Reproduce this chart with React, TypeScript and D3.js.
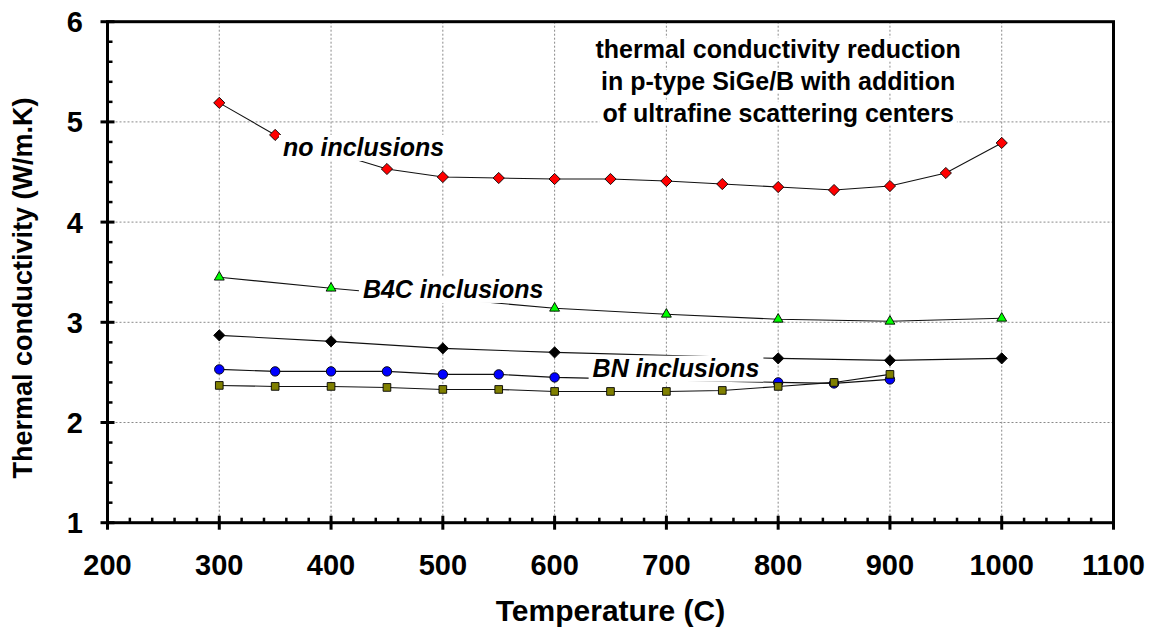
import React, { useEffect, useRef } from "react";
import * as d3 from "d3";

const noInclT = [300, 350, 450, 500, 550, 600, 650, 700, 750, 800, 850, 900, 950, 1000];
const noInclK = [5.19, 4.87, 4.53, 4.45, 4.44, 4.43, 4.43, 4.41, 4.38, 4.35, 4.32, 4.36, 4.49, 4.79];
const b4cT = [300, 400, 600, 700, 800, 900, 1000];
const b4cK = [3.45, 3.34, 3.14, 3.08, 3.03, 3.01, 3.04];
const blackT = [300, 400, 500, 600, 800, 900, 1000];
const blackK = [2.87, 2.81, 2.74, 2.70, 2.64, 2.62, 2.64];
const blueT = [300, 350, 400, 450, 500, 550, 600, 800, 850, 900];
const blueK = [2.53, 2.51, 2.51, 2.51, 2.48, 2.48, 2.45, 2.40, 2.39, 2.43];
const bnT = [300, 350, 400, 450, 500, 550, 600, 650, 700, 750, 800, 850, 900];
const bnK = [2.37, 2.36, 2.36, 2.35, 2.33, 2.33, 2.31, 2.31, 2.31, 2.32, 2.36, 2.40, 2.48];

const xTicks = [200, 300, 400, 500, 600, 700, 800, 900, 1000, 1100];
const yTicks = [1, 2, 3, 4, 5, 6];
const titleLines = [
  "thermal conductivity reduction",
  "in p-type SiGe/B with addition",
  "of ultrafine scattering centers",
];
const labelTexts = ["no inclusions", "B4C inclusions", "BN inclusions"];
const labelAnchors = [
  [357, 4.66],
  [428.5, 3.243],
  [634, 2.457],
];

const FONT = "'Liberation Sans', Arial, Helvetica, sans-serif";

export default function App() {
  const ref = useRef<SVGSVGElement | null>(null);

  useEffect(() => {
    const svg = d3.select(ref.current);
    svg.selectAll("*").remove();
    const x = d3.scaleLinear().domain([200, 1100]).range([107.5, 1113.5]);
    const y = d3.scaleLinear().domain([1, 6]).range([522.7, 21.7]);

    const g = svg.append("g");

    // gridlines
    g.append("g")
      .selectAll("line")
      .data(xTicks.slice(1, -1))
      .join("line")
      .attr("x1", (d) => x(d)).attr("x2", (d) => x(d))
      .attr("y1", y(6)).attr("y2", y(1))
      .attr("stroke", "#8a8a8a").attr("stroke-width", 1).attr("stroke-dasharray", "2,2");
    g.append("g")
      .selectAll("line")
      .data(yTicks.slice(1, -1))
      .join("line")
      .attr("y1", (d) => y(d)).attr("y2", (d) => y(d))
      .attr("x1", x(200)).attr("x2", x(1100))
      .attr("stroke", "#8a8a8a").attr("stroke-width", 1).attr("stroke-dasharray", "2,2");

    // series
    const series = [
      { t: noInclT, k: noInclK, shape: "diamond", fill: "#ff0000" },
      { t: b4cT, k: b4cK, shape: "triangle", fill: "#00ff00" },
      { t: blackT, k: blackK, shape: "diamond", fill: "#000000" },
      { t: blueT, k: blueK, shape: "circle", fill: "#0000ff" },
      { t: bnT, k: bnK, shape: "square", fill: "#808000" },
    ];
    series.forEach((s) => {
      const pts: [number, number][] = s.t.map((t, i) => [x(t), y(s.k[i])]);
      g.append("path")
        .attr("d", d3.line()(pts) as string)
        .attr("fill", "none")
        .attr("stroke", "#111")
        .attr("stroke-width", 1.1);
    });
    series.forEach((s) => {
      const pts: [number, number][] = s.t.map((t, i) => [x(t), y(s.k[i])]);
      const sym =
        s.shape === "diamond"
          ? d3.symbol().type(d3.symbolDiamond2).size(80)
          : s.shape === "triangle"
          ? d3.symbol().type(d3.symbolTriangle2).size(70)
          : s.shape === "circle"
          ? d3.symbol().type(d3.symbolCircle).size(70)
          : d3.symbol().type(d3.symbolSquare2).size(75);
      g.append("g")
        .selectAll("path")
        .data(pts)
        .join("path")
        .attr("transform", (d) => `translate(${d[0]},${d[1]})`)
        .attr("d", sym() as string)
        .attr("fill", s.fill)
        .attr("stroke", "#000")
        .attr("stroke-width", 0.9);
    });

    // labels with white boxes
    labelTexts.forEach((txt, i) => {
      const lg = g.append("g");
      const rect = lg.append("rect").attr("fill", "#fff");
      const t = lg.append("text")
        .attr("x", x(labelAnchors[i][0]))
        .attr("y", y(labelAnchors[i][1]))
        .attr("font-family", FONT)
        .attr("font-size", 25)
        .attr("font-weight", "bold")
        .attr("font-style", "italic")
        .attr("fill", "#000")
        .text(txt);
      const bb = (t.node() as SVGTextElement).getBBox();
      rect.attr("x", bb.x - 4).attr("y", bb.y + 2).attr("width", bb.width + 8).attr("height", bb.height - 2);
    });

    // title
    const tx = x(800);
    titleLines.forEach((txt, i) => {
      const lg = g.append("g");
      const rect = lg.append("rect").attr("fill", "#fff");
      const t = lg.append("text")
        .attr("x", tx)
        .attr("y", y(5.637) + i * 32)
        .attr("text-anchor", "middle")
        .attr("font-family", FONT)
        .attr("font-size", 25)
        .attr("font-weight", "bold")
        .attr("fill", "#000")
        .text(txt);
      const bb = (t.node() as SVGTextElement).getBBox();
      rect.attr("x", bb.x - 3).attr("y", bb.y + 3).attr("width", bb.width + 6).attr("height", bb.height - 5);
    });

    // frame
    g.append("rect")
      .attr("x", x(200)).attr("y", y(6))
      .attr("width", x(1100) - x(200)).attr("height", y(1) - y(6))
      .attr("fill", "none").attr("stroke", "#000").attr("stroke-width", 3);

    // x ticks
    const xMinor = d3.range(200, 1100.1, 20).filter((v) => v % 100 !== 0);
    g.append("g").selectAll("line").data(xMinor).join("line")
      .attr("x1", (d) => x(d)).attr("x2", (d) => x(d))
      .attr("y1", y(1)).attr("y2", y(1) - 5)
      .attr("stroke", "#000").attr("stroke-width", 2.5);
    g.append("g").selectAll("line").data(xTicks).join("line")
      .attr("x1", (d) => x(d)).attr("x2", (d) => x(d))
      .attr("y1", y(1) - 7).attr("y2", y(1) + 7)
      .attr("stroke", "#000").attr("stroke-width", 3);
    g.append("g").selectAll("text").data(xTicks).join("text")
      .attr("x", (d) => x(d)).attr("y", 575)
      .attr("text-anchor", "middle")
      .attr("font-family", FONT).attr("font-size", 29).attr("font-weight", "bold")
      .text((d) => String(d));

    // y ticks
    const yMinor = d3.range(1, 6.001, 0.2).filter((v) => Math.abs(v - Math.round(v)) > 0.01);
    g.append("g").selectAll("line").data(yMinor).join("line")
      .attr("y1", (d) => y(d)).attr("y2", (d) => y(d))
      .attr("x1", x(200)).attr("x2", x(200) + 5)
      .attr("stroke", "#000").attr("stroke-width", 2.5);
    g.append("g").selectAll("line").data(yTicks).join("line")
      .attr("y1", (d) => y(d)).attr("y2", (d) => y(d))
      .attr("x1", x(200) - 7).attr("x2", x(200) + 7)
      .attr("stroke", "#000").attr("stroke-width", 3);
    g.append("g").selectAll("text").data(yTicks).join("text")
      .attr("x", 83).attr("y", (d) => y(d))
      .attr("dy", "0.36em")
      .attr("text-anchor", "end")
      .attr("font-family", FONT).attr("font-size", 29).attr("font-weight", "bold")
      .text((d) => String(d));

    // axis titles
    g.append("text")
      .attr("x", (x(200) + x(1100)) / 2).attr("y", 621)
      .attr("text-anchor", "middle")
      .attr("font-family", FONT).attr("font-size", 30).attr("font-weight", "bold")
      .text("Temperature (C)");
    g.append("text")
      .attr("transform", `translate(32,${288}) rotate(-90)`)
      .attr("text-anchor", "middle")
      .attr("font-family", FONT).attr("font-size", 27).attr("font-weight", "bold")
      .text("Thermal conductivity (W/m.K)");
  }, []);

  return (
    <svg
      ref={ref}
      width={1149}
      height={629}
      style={{ position: "absolute", left: 0, top: 0, background: "#fff" }}
    />
  );
}
